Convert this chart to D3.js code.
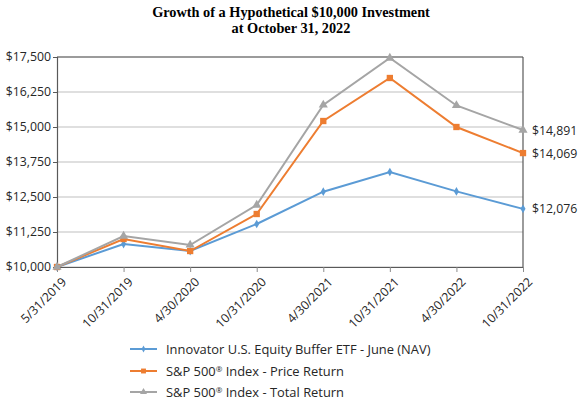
<!DOCTYPE html>
<html><head><meta charset="utf-8">
<script src="https://cdn.jsdelivr.net/npm/d3@7"></script>
<style>body{margin:0;background:#fff}</style>
</head><body>
<svg id="c" width="581" height="404"></svg>
<script>
const dates = ["5/31/2019","10/31/2019","4/30/2020","10/31/2020","4/30/2021","10/31/2021","4/30/2022","10/31/2022"];
const etfNav = [10000,10821,10571,11536,12690,13393,12700,12076];
const spPrice = [10000,11000,10571,11893,15214,16750,15000,14069];
const spTotal = [10000,11107,10786,12214,15786,17464,15770,14891];
const yTicks = [10000,11250,12500,13750,15000,16250,17500];
const seriesNames = [["Innovator U.S. Equity Buffer ETF - June (NAV)"],["S&P 500","\u00AE"," Index - Price Return"],["S&P 500","\u00AE"," Index - Total Return"]];
const colors = ["#5B9BD5","#ED7D31","#A5A5A5"];

const svg = d3.select("#c");
const L=57,R=523,T=57,B=267;
const x = d3.scalePoint().domain(dates).range([L,R]);
const y = d3.scaleLinear().domain([10000,17500]).range([B,T]);
const fmt = v => "$" + d3.format(",")(v);

svg.append("text").attr("x",291).attr("y",17).attr("text-anchor","middle")
  .attr("font-family","Liberation Serif, Times New Roman, serif").attr("font-weight","bold").attr("font-size",14.3)
  .text("Growth of a Hypothetical $10,000 Investment");
svg.append("text").attr("x",291).attr("y",33).attr("text-anchor","middle")
  .attr("font-family","Liberation Serif, Times New Roman, serif").attr("font-weight","bold").attr("font-size",14.3)
  .text("at October 31, 2022");

// grid
svg.append("g").selectAll("line").data(yTicks).join("line")
  .attr("x1",L).attr("x2",R).attr("y1",d=>y(d)).attr("y2",d=>y(d))
  .attr("stroke","#d4d4d4").attr("stroke-width",1.5);

// y axis
const ya = svg.append("g").attr("transform",`translate(${L},0)`)
  .call(d3.axisLeft(y).tickValues(yTicks).tickFormat(fmt).tickSize(4).tickPadding(2));
ya.select(".domain").attr("stroke","#595959").attr("stroke-width",1.2);
ya.selectAll(".tick line").attr("stroke","#595959");
ya.selectAll("text").attr("font-family","Open Sans, sans-serif").attr("font-size",12.3).attr("fill","#262626");

// x axis
const xa = svg.append("g").attr("transform",`translate(0,${B})`)
  .call(d3.axisBottom(x).tickSize(5).tickSizeOuter(0));
xa.select(".domain").attr("stroke","#595959").attr("stroke-width",1.2);
xa.selectAll(".tick line").attr("stroke","#8c8c8c");
xa.selectAll("text").attr("font-family","Open Sans, sans-serif").attr("font-size",12.3).attr("fill","#262626")
  .attr("text-anchor","end").attr("dy",0).attr("transform","translate(4,10) rotate(-45)");

// frame top/right
svg.append("line").attr("x1",L).attr("x2",R).attr("y1",T).attr("y2",T).attr("stroke","#595959").attr("stroke-width",1.2);
svg.append("line").attr("x1",R).attr("x2",R).attr("y1",T).attr("y2",B).attr("stroke","#595959").attr("stroke-width",1.2);

const all = [etfNav, spPrice, spTotal];
const line = d3.line().x((d,i)=>x(dates[i])).y(d=>y(d));
const symbols = [d3.symbolDiamond, d3.symbolSquare, d3.symbolTriangle];
const sizes = [22, 40, 36];

all.forEach((s,k)=>{
  svg.append("path").datum(s).attr("d",line).attr("fill","none").attr("stroke",colors[k]).attr("stroke-width",2);
  svg.append("g").selectAll("path").data(s).join("path")
    .attr("transform",(d,i)=>`translate(${x(dates[i])},${y(d)})`)
    .attr("d",d3.symbol().type(symbols[k]).size(sizes[k])).attr("fill",colors[k]);
  svg.append("text").attr("x",R+9).attr("y",y(s[s.length-1])+4.5)
    .attr("font-family","Open Sans, sans-serif").attr("font-size",12.3).attr("fill","#262626")
    .text(fmt(s[s.length-1]));
});

// legend
const ly = [349,371,392];
seriesNames.forEach((n,k)=>{
  const g = svg.append("g");
  g.append("line").attr("x1",130).attr("x2",157).attr("y1",ly[k]).attr("y2",ly[k]).attr("stroke",colors[k]).attr("stroke-width",2);
  g.append("path").attr("transform",`translate(143.5,${ly[k]})`).attr("d",d3.symbol().type(symbols[k]).size(sizes[k]*0.6)).attr("fill",colors[k]);
  const t = g.append("text").attr("x",166).attr("y",ly[k]+4.5).attr("font-family","Open Sans, sans-serif").attr("font-size",12.9).attr("fill","#262626");
  n.forEach((part,j)=>{
    const ts = t.append("tspan").text(part);
    if (part === "\u00AE") ts.attr("font-size",8).attr("dy",-4);
    else if (j>0) ts.attr("dy",4);
  });
});
</script>
</body></html>
